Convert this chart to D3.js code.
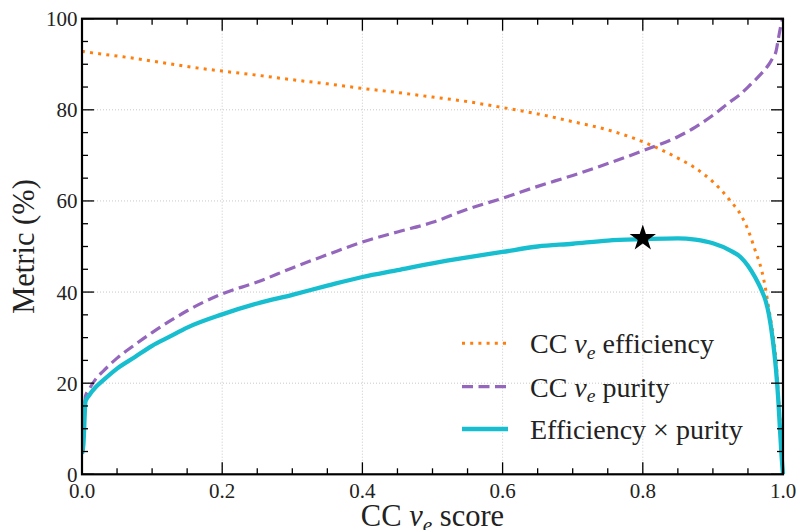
<!DOCTYPE html>
<html>
<head>
<meta charset="utf-8">
<script src="https://cdn.jsdelivr.net/npm/d3@7"></script>
<style>
  html, body { margin: 0; padding: 0; background: #fff; }
  svg { display: block; }
  text { font-family: "Liberation Serif", "DejaVu Serif", serif; fill: #222; }
</style>
</head>
<body>
<svg id="chart" width="797" height="530"></svg>
<script>
// ---- data ----
const score = [0, 0.002, 0.005, 0.01, 0.02, 0.03, 0.05, 0.075, 0.1, 0.125, 0.15, 0.2, 0.25, 0.3, 0.35, 0.4, 0.45, 0.5, 0.55, 0.6, 0.65, 0.7, 0.75, 0.8, 0.85, 0.875, 0.9, 0.925, 0.94, 0.95, 0.96, 0.97, 0.975, 0.98, 0.985, 0.99, 0.993, 0.996, 0.998, 1.0];
const efficiency = [92.9, 92.8, 92.7, 92.6, 92.4, 92.2, 91.8, 91.3, 90.7, 90.1, 89.5, 88.5, 87.6, 86.6, 85.7, 84.7, 83.8, 82.8, 81.8, 80.5, 79.1, 77.4, 75.6, 73.0, 69.4, 67.2, 64.2, 60.0, 56.9, 53.7, 49.3, 44.5, 40.8, 36.2, 31.5, 25.2, 18.5, 11.0, 5.0, 0.0];
const purity = [4.8, 7.0, 17.2, 18.6, 21.0, 22.6, 25.5, 28.4, 31.1, 33.6, 35.9, 39.6, 42.2, 45.3, 48.2, 51.0, 53.2, 55.3, 58.2, 60.6, 63.2, 65.6, 68.2, 71.0, 74.1, 76.2, 78.8, 81.8, 83.5, 85.0, 86.5, 88.1, 89.0, 90.0, 91.3, 92.8, 95.3, 97.8, 99.3, 100.0];
const effTimesPurity = [4.5, 6.5, 16.0, 17.3, 19.2, 20.6, 23.2, 25.7, 28.2, 30.2, 32.2, 35.1, 37.5, 39.4, 41.4, 43.3, 44.8, 46.3, 47.6, 48.8, 50.0, 50.6, 51.3, 51.6, 51.8, 51.5, 50.7, 49.1, 47.6, 45.8, 43.3, 40.2, 38.2, 35.0, 30.0, 23.0, 17.0, 9.0, 4.0, 0.0];
const bestScore = [0.8];
const bestValue = [51.8];
const xTicks = [0, 0.2, 0.4, 0.6, 0.8, 1.0];
const xTickLabels = ["0.0", "0.2", "0.4", "0.6", "0.8", "1.0"];
const yTicks = [0, 20, 40, 60, 80, 100];
const yTickLabels = ["0", "20", "40", "60", "80", "100"];
const seriesNames = ["efficiency", "purity", "product"];

// ---- layout ----
const svg = d3.select("#chart");
const L = 82, R = 783, T = 18.7, B = 474.3;
const x = d3.scaleLinear().domain([0, 1]).range([L, R]);
const y = d3.scaleLinear().domain([0, 100]).range([B, T]);

const colors = { efficiency: "#ff7f0e", purity: "#9467bd", product: "#17becf" };

// grid
const grid = svg.append("g");
xTicks.slice(1, -1).forEach(v => {
  grid.append("line").attr("x1", x(v)).attr("x2", x(v)).attr("y1", T).attr("y2", B)
    .attr("stroke", "#c8c8c8").attr("stroke-width", 1).attr("stroke-dasharray", "1,2");
});
yTicks.slice(1, -1).forEach(v => {
  grid.append("line").attr("x1", L).attr("x2", R).attr("y1", y(v)).attr("y2", y(v))
    .attr("stroke", "#c8c8c8").attr("stroke-width", 1).attr("stroke-dasharray", "1,2");
});

// lines
const mk = vals => d3.line().x((d, i) => x(score[i])).y(d => y(d)).curve(d3.curveMonotoneX)(vals);
svg.append("clipPath").attr("id", "clip").append("rect")
  .attr("x", L).attr("y", T - 2).attr("width", R - L + 2).attr("height", B - T + 2);
const lines = svg.append("g").attr("clip-path", "url(#clip)");
lines.append("path").attr("d", mk(efficiency)).attr("fill", "none")
  .attr("stroke", colors.efficiency).attr("stroke-width", 3).attr("stroke-dasharray", "3,5.2");
lines.append("path").attr("d", mk(purity)).attr("fill", "none")
  .attr("stroke", colors.purity).attr("stroke-width", 3.2).attr("stroke-dasharray", "11,5.5");
lines.append("path").attr("d", mk(effTimesPurity)).attr("fill", "none")
  .attr("stroke", colors.product).attr("stroke-width", 4.3).attr("stroke-linejoin", "round");

// star
svg.append("path").attr("d", d3.symbol().type(d3.symbolStar).size(215)())
  .attr("transform", `translate(${x(bestScore[0])},${y(bestValue[0])})`)
  .attr("fill", "#000");

// axes with inward ticks on all sides
const minorX = d3.range(0, 1.0001, 0.05).filter(v => Math.abs(v * 5 - Math.round(v * 5)) > 1e-6);
const minorY = d3.range(0, 100.001, 5).filter(v => v % 20 !== 0);
const tickG = svg.append("g").attr("stroke", "#000").attr("stroke-width", 1.3);
xTicks.forEach(v => {
  tickG.append("line").attr("x1", x(v)).attr("x2", x(v)).attr("y1", B).attr("y2", B - 12);
  tickG.append("line").attr("x1", x(v)).attr("x2", x(v)).attr("y1", T).attr("y2", T + 12);
});
minorX.forEach(v => {
  tickG.append("line").attr("x1", x(v)).attr("x2", x(v)).attr("y1", B).attr("y2", B - 6);
  tickG.append("line").attr("x1", x(v)).attr("x2", x(v)).attr("y1", T).attr("y2", T + 6);
});
yTicks.forEach(v => {
  tickG.append("line").attr("y1", y(v)).attr("y2", y(v)).attr("x1", L).attr("x2", L + 12);
  tickG.append("line").attr("y1", y(v)).attr("y2", y(v)).attr("x1", R).attr("x2", R - 12);
});
minorY.forEach(v => {
  tickG.append("line").attr("y1", y(v)).attr("y2", y(v)).attr("x1", L).attr("x2", L + 6);
  tickG.append("line").attr("y1", y(v)).attr("y2", y(v)).attr("x1", R).attr("x2", R - 6);
});

// frame
svg.append("rect").attr("x", L).attr("y", T).attr("width", R - L).attr("height", B - T)
  .attr("fill", "none").attr("stroke", "#000").attr("stroke-width", 2.2);

// tick labels
xTicks.forEach((v, i) => {
  svg.append("text").attr("x", x(v)).attr("y", 497.5).attr("text-anchor", "middle")
    .attr("font-size", 21).text(xTickLabels[i]);
});
yTicks.forEach((v, i) => {
  svg.append("text").attr("x", 77.5).attr("y", y(v) + 7.5).attr("text-anchor", "end")
    .attr("font-size", 21).text(yTickLabels[i]);
});

// axis labels
function nuE(sel, size) {
  sel.append("tspan").attr("font-style", "italic").text("ν");
  sel.append("tspan").attr("font-style", "italic").attr("font-size", size * 0.7).attr("dy", size * 0.2).text("e");
}
const xl = svg.append("text").attr("x", (L + R) / 2).attr("y", 526).attr("text-anchor", "middle").attr("font-size", 30.5);
xl.append("tspan").text("CC ");
nuE(xl, 30.5);
xl.append("tspan").attr("dy", -30.5 * 0.2).text(" score");

svg.append("text").attr("transform", `translate(34.3,${(T + B) / 2}) rotate(-90)`)
  .attr("text-anchor", "middle").attr("font-size", 30.5).text("Metric (%)");

// legend
const legY = [343.3, 386.7, 429];
const legText = [["CC ", true, " efficiency"], ["CC ", true, " purity"], ["Efficiency × purity", false, ""]];
const legStyle = [
  { c: colors.efficiency, w: 3, dash: "3,5.2" },
  { c: colors.purity, w: 3.2, dash: "11,5.5" },
  { c: colors.product, w: 4.3, dash: null }
];
seriesNames.forEach((s, i) => {
  const ln = svg.append("line").attr("x1", 462).attr("x2", 508).attr("y1", legY[i]).attr("y2", legY[i])
    .attr("stroke", legStyle[i].c).attr("stroke-width", legStyle[i].w);
  if (legStyle[i].dash) ln.attr("stroke-dasharray", legStyle[i].dash);
  const t = svg.append("text").attr("x", 530).attr("y", legY[i] + 10).attr("font-size", 28);
  t.append("tspan").text(legText[i][0]);
  if (legText[i][1]) {
    nuE(t, 28);
    t.append("tspan").attr("dy", -28 * 0.2).text(legText[i][2]);
  }
});
</script>
</body>
</html>
